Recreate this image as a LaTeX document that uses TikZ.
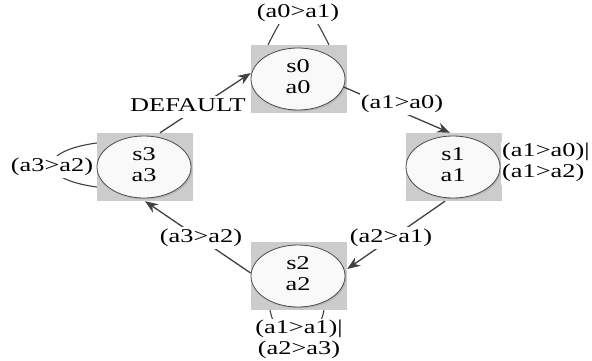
\documentclass[tikz,border=0pt]{standalone}
\usepackage{fontspec}
\setmainfont{Liberation Serif}
\usepackage{graphicx}
\usetikzlibrary{arrows.meta,calc,shapes.geometric,shadows}
% widened text block (one or more lines)
\newcommand\wtxt[2][c]{\scalebox{1.35}[1]{\begin{tabular}{@{}#1@{}}#2\end{tabular}}}

\begin{document}
\begin{tikzpicture}[x=1pt,y=-1pt,
  font=\fontsize{19.5}{20.5}\selectfont,
  statebox/.style={fill=gray!40, minimum width=96pt, minimum height=68pt, inner sep=0pt},
  stateell/.style={ellipse, draw=black!70, fill=gray!5, line width=0.8pt,
    minimum width=94pt, minimum height=62pt, inner sep=0pt,
    drop shadow={shadow xshift=1.5pt, shadow yshift=-1.5pt, fill=gray!70, opacity=0.5}},
  edge/.style={draw=black!75, line width=1.3pt, -{Stealth[length=13pt,width=10pt]}},
  loopline/.style={draw=black!75, line width=1.1pt},
  lbl/.style={fill=white, inner sep=1pt}]

\useasboundingbox (0,0) rectangle (592,361);

% states: grey frame with an ellipse inside
\node[statebox] (s0b) at (299,79) {};
\node[stateell] (s0) at (298,79) {\wtxt{s0\\a0}};
\node[statebox] (s1b) at (454,167) {};
\node[stateell] (s1) at (453,167) {\wtxt{s1\\a1}};
\node[statebox] (s2b) at (299,276) {};
\node[stateell] (s2) at (298,276) {\wtxt{s2\\a2}};
\node[statebox] (s3b) at (145,167) {};
\node[stateell] (s3) at (144,167) {\wtxt{s3\\a3}};

% transitions
\draw[edge] (s0.-10) -- ($(s1b.north)+(-4,0)$);
\node[lbl] (t01) at (402,104) {\wtxt{(a1>a0)}};

\draw[edge] ($(s1b.south)+(-9,0)$) -- ($(s2b.east)+(0,-7)$);
\node[lbl] (t12) at (391,238) {\wtxt{(a2>a1)}};

\draw[edge] ($(s2.west)+(0,-3)$) -- (s3b.south);
\node[lbl] (t23) at (201,238) {\wtxt{(a3>a2)}};

\draw[edge] ($(s3b.north)+(15,0)$) -- ($(s0b.west)+(0,-6)$);
\node[lbl] (t30) at (188,107) {\wtxt{DEFAULT}};

% self loops
\draw[loopline] ($(s0b.north)+(-31,0)$) .. controls +(28,-55) and +(-28,-55) .. ($(s0b.north)+(30,0)$);
\node[lbl] (l0) at (298,13) {\wtxt{(a0>a1)}};

\draw[loopline] ($(s1b.east)+(0,-16)$) .. controls +(35,-5) and +(35,5) .. ($(s1b.east)+(0,16)$);
\node[lbl, anchor=west] (l1) at (501,163) {\wtxt[l]{(a1>a0)|\\(a1>a2)}};

\draw[loopline] ($(s2b.south)+(-29,0)$) .. controls +(8,40) and +(-8,40) .. ($(s2b.south)+(25,0)$);
\node[lbl] (l2) at (299,340) {\wtxt{(a1>a1)|\\(a2>a3)}};

\draw[loopline] ($(s3b.west)+(0,-24)$) .. controls +(-60,8) and +(-60,-8) .. ($(s3b.west)+(0,20)$);
\node[lbl] (l3) at (52,167) {\wtxt{(a3>a2)}};
\end{tikzpicture}
\end{document}
